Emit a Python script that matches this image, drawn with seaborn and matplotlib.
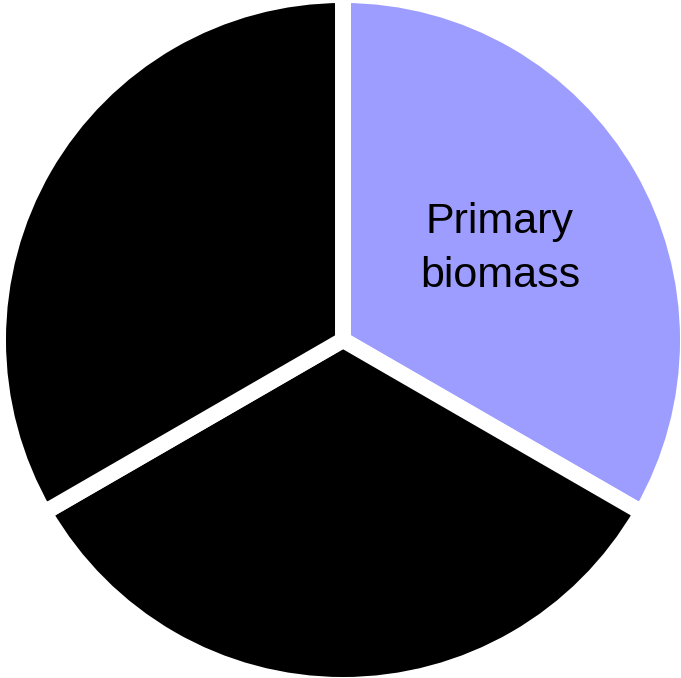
import matplotlib
matplotlib.use("Agg")
import matplotlib.pyplot as plt
import seaborn as sns

# datos del grafico
sectores = ["Primary\nbiomass", "", ""]
valores = [1, 1, 1]
colores = ["#9d9dff", "#000000", "#000000"]

sns.set_style("white")
plt.rcParams['font.family'] = ['Liberation Sans', 'DejaVu Sans']

fig = plt.figure(figsize=(6.81, 6.78), dpi=100)
ax = fig.add_axes([0, 0, 1, 1])

escala = 345.0  # pixeles por unidad
cx, cy = 343, 340
ax.pie(valores, labels=sectores, colors=colores, startangle=90, counterclock=False,
       radius=1, labeldistance=0.525,
       wedgeprops=dict(edgecolor='white', linewidth=11.5),
       textprops=dict(fontsize=31, ha='center', va='center', color='black', linespacing=1.45))
ax.set_xlim(-cx / escala, (681 - cx) / escala)
ax.set_ylim(-(678 - cy) / escala, cy / escala)
ax.set_aspect('auto')
ax.axis('off')

plt.savefig('out.png', dpi=100)
